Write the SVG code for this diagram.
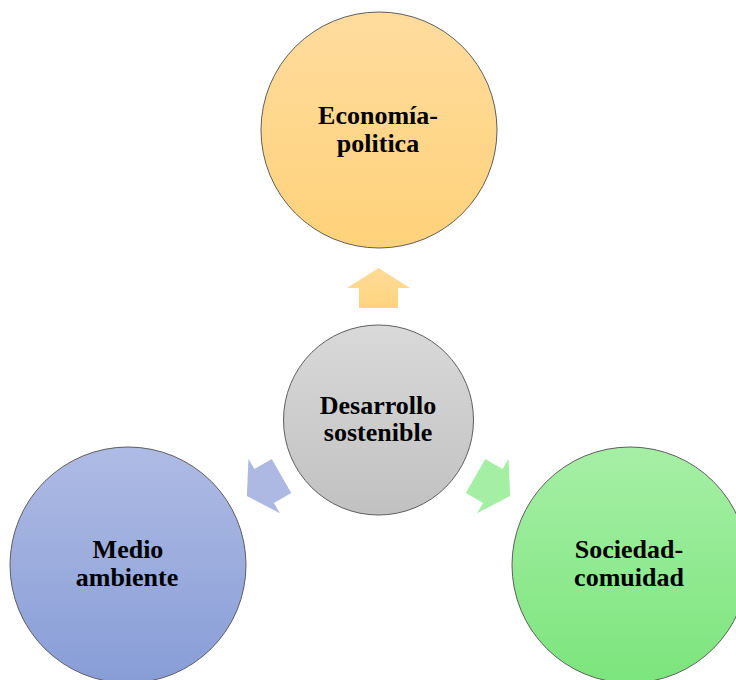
<svg xmlns="http://www.w3.org/2000/svg" width="736" height="680" viewBox="0 0 736 680">
  <defs>
    <linearGradient id="gOrange" x1="0" y1="0" x2="0" y2="1">
      <stop offset="0" stop-color="#FFDC9E"/>
      <stop offset="1" stop-color="#FFD27A"/>
    </linearGradient>
    <linearGradient id="gGray" x1="0" y1="0" x2="0" y2="1">
      <stop offset="0" stop-color="#D9D9D9"/>
      <stop offset="1" stop-color="#C1C1C1"/>
    </linearGradient>
    <linearGradient id="gBlue" x1="0" y1="0" x2="0" y2="1">
      <stop offset="0" stop-color="#AEBBE4"/>
      <stop offset="1" stop-color="#889DD7"/>
    </linearGradient>
    <linearGradient id="gGreen" x1="0" y1="0" x2="0" y2="1">
      <stop offset="0" stop-color="#A6EFA6"/>
      <stop offset="1" stop-color="#7CE57C"/>
    </linearGradient>
    <linearGradient id="aOrange" x1="0" y1="0" x2="0" y2="1">
      <stop offset="0" stop-color="#FFDB98"/>
      <stop offset="1" stop-color="#FFD47E"/>
    </linearGradient>
    <linearGradient id="aBlue" gradientUnits="userSpaceOnUse" x1="0" y1="455" x2="0" y2="515">
      <stop offset="0" stop-color="#ADB9E3"/>
      <stop offset="1" stop-color="#8EA1DA"/>
    </linearGradient>
    <linearGradient id="aGreen" gradientUnits="userSpaceOnUse" x1="0" y1="455" x2="0" y2="515">
      <stop offset="0" stop-color="#A4EFA4"/>
      <stop offset="1" stop-color="#84E884"/>
    </linearGradient>
    <path id="arrowShape" d="M378.5,268 L410,288 L398,288 L398,308 L359,308 L359,288 L347,288 Z"/>
  </defs>
  <style>
    .circle { stroke: #5e5e5e; stroke-width: 1; }
    .label { font-family: "Liberation Serif", "Times New Roman", serif; font-weight: bold; font-size: 26px; fill: #000; text-anchor: middle; }
  </style>

  <g id="connectors">
    <use href="#arrowShape" fill="url(#aOrange)"/>
    <use href="#arrowShape" fill="url(#aBlue)" transform="rotate(-120 378.5 420)"/>
    <use href="#arrowShape" fill="url(#aGreen)" transform="rotate(120 378.5 420)"/>
  </g>

  <g id="node-economia">
    <circle class="circle" cx="379" cy="130" r="118" fill="url(#gOrange)"/>
    <text class="label" x="378" y="124">Economía-</text>
    <text class="label" x="378" y="152">politica</text>
  </g>

  <g id="node-desarrollo">
    <circle class="circle" cx="378.5" cy="420" r="95" fill="url(#gGray)"/>
    <text class="label" x="378" y="414">Desarrollo</text>
    <text class="label" x="378" y="441">sostenible</text>
  </g>

  <g id="node-medio">
    <circle class="circle" cx="128" cy="565" r="118" fill="url(#gBlue)"/>
    <text class="label" x="128" y="558">Medio</text>
    <text class="label" x="127" y="586">ambiente</text>
  </g>

  <g id="node-sociedad">
    <circle class="circle" cx="630" cy="565" r="118" fill="url(#gGreen)"/>
    <text class="label" x="629" y="558">Sociedad-</text>
    <text class="label" x="629" y="586">comuidad</text>
  </g>
</svg>
